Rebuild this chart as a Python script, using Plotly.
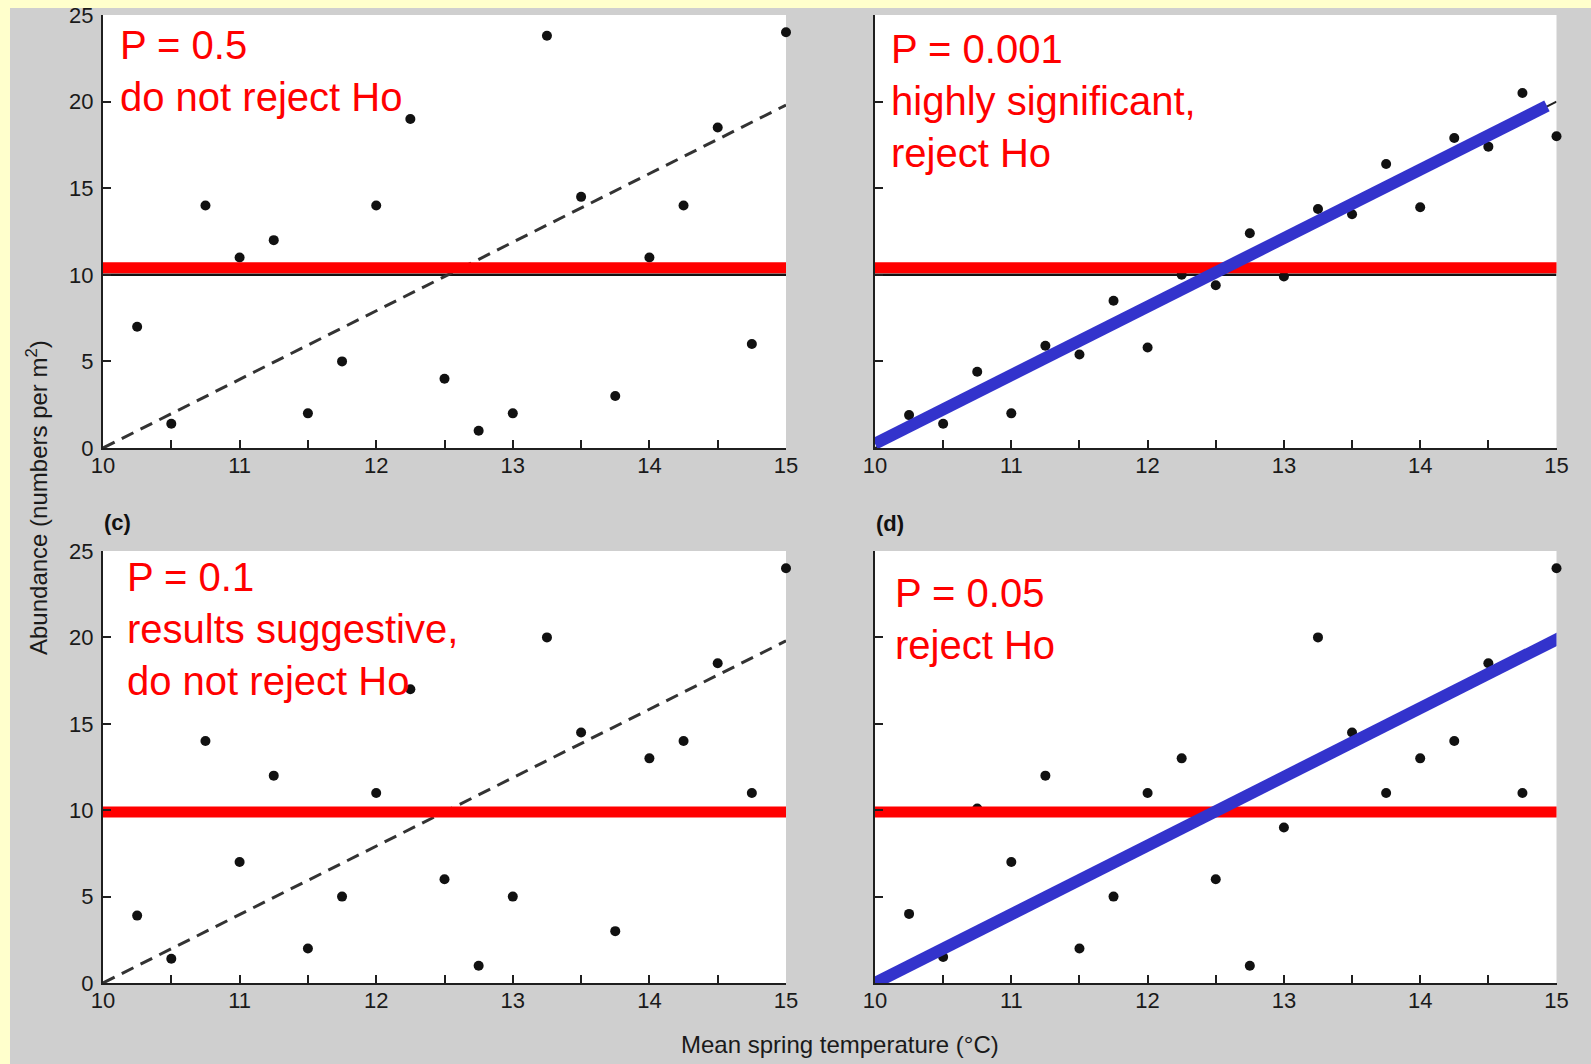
import plotly.graph_objects as go

W, H = 1591, 1064

# ---------------- data ----------------
temperature = [10.25, 10.5, 10.75, 11.0, 11.25, 11.5, 11.75, 12.0, 12.25, 12.5,
               12.75, 13.0, 13.25, 13.5, 13.75, 14.0, 14.25, 14.5, 14.75, 15.0]

abundance_a = [7, 1.4, 14, 11, 12, 2, 5, 14, 19, 4, 1, 2, 23.8, 14.5, 3, 11, 14, 18.5, 6, 24]
abundance_b = [1.9, 1.4, 4.4, 2, 5.9, 5.4, 8.5, 5.8, 10, 9.4, 12.4, 9.9, 13.8, 13.5, 16.4, 13.9, 17.9, 17.4, 20.5, 18]
abundance_c = [3.9, 1.4, 14, 7, 12, 2, 5, 11, 17, 6, 1, 5, 20, 14.5, 3, 13, 14, 18.5, 11, 24]
abundance_d = [4, 1.5, 10.1, 7, 12, 2, 5, 11, 13, 6, 1, 9, 20, 14.5, 11, 13, 14, 18.5, 11, 24]

null_x = [10, 15]
null_y = [10, 10]

red_x = [10, 15.05]
red_y_top = [10.4, 10.4]
red_y_bottom = [9.9, 9.9]

trend_x = [10, 15]
trend_y_dashed = [0, 19.8]
trend_y_b = [0, 20]

blue_b_x = [10, 14.93]
blue_b_y = [0.25, 19.75]
blue_d_x = [10, 15.03]
blue_d_y = [0, 20.0]

x_tick_vals = [10, 11, 12, 13, 14, 15]
x_tick_text = ["10", "11", "12", "13", "14", "15"]
x_minor_vals = [10.5, 11.5, 12.5, 13.5, 14.5]
y_tick_vals = [0, 5, 10, 15, 20, 25]
y_tick_text = ["0", "5", "10", "15", "20", "25"]

label_a = "P = 0.5<br>do not reject Ho"
label_b = "P = 0.001<br>highly significant,<br>reject Ho"
label_c = "P = 0.1<br>results suggestive,<br>do not reject Ho"
label_d = "P = 0.05<br>reject Ho"
panel_c = "(c)"
panel_d = "(d)"
y_title = "Abundance (numbers per m<sup>2</sup>)"
x_title = "Mean spring temperature (°C)"

# ---------------- styling ----------------
FONT = "Liberation Sans, Arial, Helvetica, sans-serif"
GRAY_BG = "#CFCFCF"
YELLOW = "#FFFFCC"
AXIS = "#1f1f1f"
RED = "#FF0000"
BLUE = "#3333CC"
DOT = "#111111"


def px(x):
    return x / W


def py(y):
    return 1 - y / H


fig = go.Figure()

panels = [
    # (suffix, x0, x1, ytop, ybottom, show y labels)
    ("", 103, 786, 15, 448, True),
    ("2", 875, 1556.5, 15, 448, False),
    ("3", 103, 786, 551, 983, True),
    ("4", 875, 1556.5, 551, 983, False),
]

layout_axes = {}
for suf, x0, x1, yt, yb, showy in panels:
    xa = "x" + suf
    ya = "y" + suf
    layout_axes["xaxis" + suf] = dict(
        domain=[px(x0), px(x1)], range=[10, 15], anchor=ya,
        showline=True, linecolor=AXIS, linewidth=2,
        ticks="inside", ticklen=8, tickwidth=2, tickcolor=AXIS,
        tickvals=x_tick_vals, ticktext=x_tick_text,
        minor=dict(tickvals=x_minor_vals, ticks="inside", ticklen=8,
                   tickwidth=2, tickcolor=AXIS),
        showgrid=False, zeroline=False,
        tickfont=dict(family=FONT, size=22, color="#1a1a1a"),
        ticklabelstandoff=-3,
    )
    layout_axes["yaxis" + suf] = dict(
        domain=[py(yb), py(yt)], range=[0, 25], anchor=xa,
        showline=True, linecolor=AXIS, linewidth=2,
        ticks="inside", ticklen=8, tickwidth=2, tickcolor=AXIS,
        tickvals=y_tick_vals, ticktext=y_tick_text,
        showticklabels=showy,
        showgrid=False, zeroline=False,
        tickfont=dict(family=FONT, size=22, color="#1a1a1a"),
        ticklabelstandoff=3,
    )

DASH = dict(color="#333333", width=3, dash="13px,8px")

# Panel (a)
fig.add_trace(go.Scatter(x=null_x, y=null_y, mode="lines", xaxis="x", yaxis="y",
                         line=dict(color="#111111", width=2.5), showlegend=False))
fig.add_trace(go.Scatter(x=trend_x, y=trend_y_dashed, mode="lines", xaxis="x", yaxis="y",
                         line=DASH, showlegend=False))
fig.add_trace(go.Scatter(x=temperature, y=abundance_a, mode="markers", xaxis="x", yaxis="y",
                         marker=dict(color=DOT, size=10), cliponaxis=False, showlegend=False))
fig.add_trace(go.Scatter(x=red_x, y=red_y_top, mode="lines", xaxis="x", yaxis="y",
                         line=dict(color=RED, width=11), showlegend=False))

# Panel (b)
fig.add_trace(go.Scatter(x=null_x, y=null_y, mode="lines", xaxis="x2", yaxis="y2",
                         line=dict(color="#111111", width=2.5), showlegend=False))
fig.add_trace(go.Scatter(x=trend_x, y=trend_y_b, mode="lines", xaxis="x2", yaxis="y2",
                         line=dict(color="#222222", width=2), showlegend=False))
fig.add_trace(go.Scatter(x=temperature, y=abundance_b, mode="markers", xaxis="x2", yaxis="y2",
                         marker=dict(color=DOT, size=10), cliponaxis=False, showlegend=False))
fig.add_trace(go.Scatter(x=red_x, y=red_y_top, mode="lines", xaxis="x2", yaxis="y2",
                         line=dict(color=RED, width=11), showlegend=False))
fig.add_trace(go.Scatter(x=blue_b_x, y=blue_b_y, mode="lines", xaxis="x2", yaxis="y2",
                         line=dict(color=BLUE, width=12), showlegend=False))

# Panel (c)
fig.add_trace(go.Scatter(x=trend_x, y=trend_y_dashed, mode="lines", xaxis="x3", yaxis="y3",
                         line=DASH, showlegend=False))
fig.add_trace(go.Scatter(x=temperature, y=abundance_c, mode="markers", xaxis="x3", yaxis="y3",
                         marker=dict(color=DOT, size=10), cliponaxis=False, showlegend=False))
fig.add_trace(go.Scatter(x=red_x, y=red_y_bottom, mode="lines", xaxis="x3", yaxis="y3",
                         line=dict(color=RED, width=11), showlegend=False))

# Panel (d)
fig.add_trace(go.Scatter(x=temperature, y=abundance_d, mode="markers", xaxis="x4", yaxis="y4",
                         marker=dict(color=DOT, size=10), cliponaxis=False, showlegend=False))
fig.add_trace(go.Scatter(x=red_x, y=red_y_bottom, mode="lines", xaxis="x4", yaxis="y4",
                         line=dict(color=RED, width=11), showlegend=False))
fig.add_trace(go.Scatter(x=blue_d_x, y=blue_d_y, mode="lines", xaxis="x4", yaxis="y4",
                         line=dict(color=BLUE, width=12), showlegend=False))

red_font = dict(family=FONT, size=40, color=RED)
annotations = [
    dict(text=label_a, x=px(117.5), y=py(21), xref="paper", yref="paper",
         xanchor="left", yanchor="top", align="left", showarrow=False, font=red_font),
    dict(text=label_b, x=px(888.5), y=py(25), xref="paper", yref="paper",
         xanchor="left", yanchor="top", align="left", showarrow=False, font=red_font),
    dict(text=label_c, x=px(124.5), y=py(553), xref="paper", yref="paper",
         xanchor="left", yanchor="top", align="left", showarrow=False, font=red_font),
    dict(text=label_d, x=px(892.5), y=py(569), xref="paper", yref="paper",
         xanchor="left", yanchor="top", align="left", showarrow=False, font=red_font),
    dict(text="<b>" + panel_c + "</b>", x=px(117.5), y=py(522), xref="paper", yref="paper",
         xanchor="center", yanchor="middle", showarrow=False,
         font=dict(family=FONT, size=22, color="#111111")),
    dict(text="<b>" + panel_d + "</b>", x=px(889.5), y=py(523), xref="paper", yref="paper",
         xanchor="center", yanchor="middle", showarrow=False,
         font=dict(family=FONT, size=22, color="#111111")),
    dict(text=y_title, x=px(37), y=py(498), xref="paper", yref="paper",
         xanchor="center", yanchor="middle", textangle=-90, showarrow=False,
         font=dict(family=FONT, size=24, color="#1a1a1a")),
    dict(text=x_title, x=px(840), y=py(1044), xref="paper", yref="paper",
         xanchor="center", yanchor="middle", showarrow=False,
         font=dict(family=FONT, size=24, color="#1a1a1a")),
]

shapes = [
    dict(type="rect", xref="paper", yref="paper", x0=0, x1=1, y0=py(8), y1=1,
         fillcolor=YELLOW, line=dict(width=0), layer="below"),
    dict(type="rect", xref="paper", yref="paper", x0=0, x1=px(10), y0=0, y1=1,
         fillcolor=YELLOW, line=dict(width=0), layer="below"),
]

fig.update_layout(
    width=W, height=H,
    margin=dict(l=0, r=0, t=0, b=0, pad=0, autoexpand=False),
    paper_bgcolor=GRAY_BG,
    plot_bgcolor="#FFFFFF",
    showlegend=False,
    annotations=annotations,
    shapes=shapes,
    font=dict(family=FONT),
    **layout_axes,
)

fig.write_html(
    "out.html",
    config={"displayModeBar": False},
    post_script="document.body.style.margin='0';document.body.style.overflow='hidden';",
)
